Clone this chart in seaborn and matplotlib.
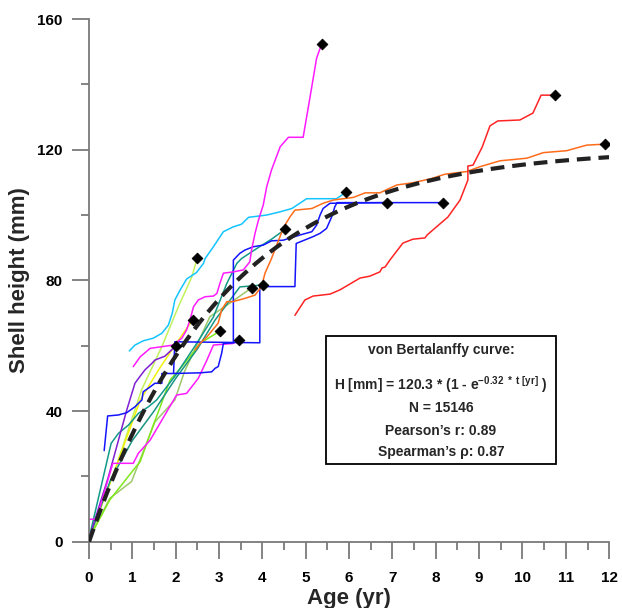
import numpy as np
import pandas as pd
import matplotlib
matplotlib.use("Agg")
import matplotlib.pyplot as plt
import seaborn as sns
from matplotlib.patches import Rectangle
from matplotlib.ticker import MultipleLocator

# ---- individual shell growth trajectories (age in yr, shell height in mm) ----
magenta1_age = [1.02, 1.18, 1.41, 1.68, 1.94, 2.14, 2.25, 2.33, 2.41, 2.52, 2.68, 2.87, 2.95, 3.02,
                3.10, 3.33, 3.56, 3.71, 3.75, 3.83, 3.91, 4.02, 4.10, 4.21, 4.41, 4.60, 4.94, 5.10,
                5.25, 5.37]
magenta1_h = [53.6, 56.6, 59.2, 59.7, 60.2, 62.3, 64.8, 67.9, 71.9, 74.0, 75.0, 75.2, 76.0, 79.1,
              82.2, 82.6, 83.2, 85.7, 89.3, 94.4, 98.5, 103.1, 108.7, 113.8, 120.9, 123.8, 123.8, 136.2,
              148.0, 152.5]

magenta2_age = [0.0, 0.17, 0.55, 1.02, 1.14, 1.41, 1.75, 2.02, 2.25, 2.52, 2.72, 2.87, 3.33, 3.46]
magenta2_h = [6.9, 6.9, 24.0, 24.0, 27.1, 31.1, 38.8, 44.9, 45.4, 50.0, 55.6, 60.2, 60.7, 61.8]

cyan_age = [0.93, 1.06, 1.25, 1.48, 1.68, 1.83, 1.92, 1.98, 2.10, 2.25, 2.48, 2.64, 2.68, 2.87,
            3.10, 3.33, 3.52, 3.68, 4.10, 4.41, 4.68, 5.02, 5.71, 5.94]
cyan_h = [58.4, 60.2, 61.5, 62.3, 63.8, 66.3, 69.9, 74.0, 77.0, 80.4, 82.4, 85.2, 86.7, 90.3,
          94.9, 96.4, 97.2, 99.3, 100.0, 101.0, 102.0, 105.0, 105.0, 107.1]

orange_age = [2.45, 2.56, 2.72, 2.98, 3.06, 3.18, 3.32, 3.60, 3.83, 3.98, 4.06, 4.21, 4.45, 4.52,
              4.64, 4.75, 5.14, 5.40, 5.64, 6.10, 6.37, 6.71, 7.10, 7.48, 7.91, 8.21, 8.71, 9.02,
              9.48, 10.10, 10.48, 11.02, 11.48, 11.90]
orange_h = [58.7, 60.7, 62.7, 66.9, 71.0, 73.5, 73.5, 74.5, 75.5, 78.1, 82.2, 86.7, 94.9, 96.9,
            99.5, 101.5, 102.0, 103.6, 104.6, 105.4, 106.8, 106.8, 109.2, 109.9, 111.2, 112.5, 113.3, 114.8,
            116.6, 117.4, 119.1, 119.7, 121.4, 121.7]

red_age = [4.75, 4.98, 5.17, 5.56, 5.79, 6.25, 6.48, 6.71, 6.76, 6.83, 6.94, 7.24, 7.47, 7.75,
           7.80, 8.28, 8.56, 8.74, 8.74, 8.86, 9.07, 9.25, 9.43, 9.94, 10.24, 10.43, 10.75]
red_h = [69.3, 74.0, 75.2, 75.8, 77.1, 80.7, 81.3, 82.6, 83.8, 84.1, 86.2, 91.4, 92.6, 93.0,
         93.9, 99.4, 104.6, 110.7, 115.0, 115.3, 120.8, 127.3, 128.8, 129.1, 131.2, 136.7, 136.7]

blue1_age = [0.35, 0.43, 0.68, 0.87, 1.06, 1.22, 1.25, 1.37, 1.52, 1.68, 1.68, 1.95, 1.98, 3.94,
             3.94, 4.75, 4.78, 5.17, 5.33, 5.48, 5.60, 5.67, 5.72, 8.17]
blue1_h = [27.9, 38.5, 38.8, 39.5, 41.3, 43.4, 45.9, 47.0, 48.5, 48.5, 51.5, 51.5, 61.2, 60.9,
           78.1, 78.1, 91.3, 93.4, 94.4, 95.9, 99.5, 102.5, 103.8, 103.8]

blue2_age = [1.95, 2.56, 2.83, 2.91, 2.98, 3.06, 3.10, 3.33, 3.33, 3.48, 3.60, 3.79, 4.02, 4.21,
             4.48, 4.87, 5.14, 5.25, 5.33, 5.40, 5.56, 6.88]
blue2_h = [51.5, 51.7, 52.0, 53.1, 53.6, 57.7, 60.7, 60.9, 86.2, 88.3, 89.3, 90.3, 90.8, 92.1,
           92.3, 93.9, 94.9, 96.9, 100.0, 102.0, 103.6, 103.8]

purple_age = [0.0, 0.45, 0.87, 1.06, 1.17, 1.29, 1.45, 1.52, 1.75, 2.00]
purple_h = [1.0, 20.0, 40.3, 48.5, 50.5, 52.6, 54.6, 55.6, 56.8, 59.9]

yellow_age = [0.0, 0.60, 1.18, 1.60, 2.00, 2.39]
yellow_h = [1.0, 22.0, 43.3, 52.5, 60.5, 67.9]

lime_age = [0.0, 0.60, 1.21, 1.68, 2.06, 2.37, 2.50]
lime_h = [1.0, 22.0, 46.4, 59.7, 71.9, 81.0, 87.0]

green_age = [0.0, 0.48, 1.02, 1.18, 1.48, 1.64, 1.87, 2.14, 2.45, 2.56, 3.02]
green_h = [1.0, 12.8, 21.9, 24.5, 35.6, 41.2, 49.5, 53.6, 58.7, 60.7, 64.5]

olive_age = [0.0, 0.48, 0.98, 1.52, 1.98, 2.20, 2.79, 3.30, 3.76]
olive_h = [1.0, 13.3, 18.4, 36.7, 43.4, 52.0, 68.9, 73.5, 77.8]

tealA_age = [0.0, 0.51, 0.68, 0.91, 1.14, 1.37, 1.56, 2.00, 2.45, 2.87, 3.18, 3.41, 3.52, 3.91,
             4.21, 4.52]
tealA_h = [1.0, 30.1, 33.2, 35.7, 39.3, 41.3, 43.4, 51.0, 60.0, 68.8, 79.1, 85.2, 86.7, 90.1,
           92.6, 95.6]

tealB_age = [0.0, 0.50, 1.00, 1.50, 2.00, 2.50, 2.91, 3.20, 3.48, 4.01]
tealB_h = [1.0, 19.0, 31.0, 40.0, 50.0, 59.0, 67.9, 73.0, 78.0, 78.6]

# ---- von Bertalanffy fit parameters ----
h_inf = 120.3
k_growth = 0.32
n_obs = 15146
pearson_r = 0.89
spearman_rho = 0.87

series = [
    ("olive", olive_age, olive_h, "#9cc86a"),
    ("green", green_age, green_h, "#7fe81a"),
    ("lime", lime_age, lime_h, "#c2f25a"),
    ("yellow", yellow_age, yellow_h, "#f2f20a"),
    ("tealB", tealB_age, tealB_h, "#1a9482"),
    ("tealA", tealA_age, tealA_h, "#12998a"),
    ("purple", purple_age, purple_h, "#7f1fd1"),
    ("magenta2", magenta2_age, magenta2_h, "#ff1aff"),
    ("blue1", blue1_age, blue1_h, "#1414ff"),
    ("blue2", blue2_age, blue2_h, "#1414ff"),
    ("cyan", cyan_age, cyan_h, "#14c4ff"),
    ("orange", orange_age, orange_h, "#ff6c1a"),
    ("red", red_age, red_h, "#ff2424"),
    ("magenta1", magenta1_age, magenta1_h, "#ff1aff"),
]

sns.set_theme(style="ticks")
plt.rcParams["font.family"] = ["Liberation Sans", "DejaVu Sans"]
plt.rcParams["font.weight"] = "bold"
plt.rcParams["mathtext.fontset"] = "custom"
plt.rcParams["mathtext.rm"] = "Liberation Sans:bold"
plt.rcParams["mathtext.it"] = "Liberation Sans:bold"
plt.rcParams["mathtext.bf"] = "Liberation Sans:bold"

fig = plt.figure(figsize=(6.22, 6.08), dpi=100)
ax = fig.add_axes([0.1431, 0.1090, 0.8363, 0.8597])

for name, age, h, col in series:
    d = pd.DataFrame({"age": age, "height": h})
    sns.lineplot(data=d, x="age", y="height", sort=False, estimator=None,
                 color=col, linewidth=1.1, ax=ax, zorder=2)

# fitted growth curve
t = np.linspace(0, 12, 300)
curve = pd.DataFrame({"age": t, "height": h_inf * (1 - np.exp(-k_growth * t))})
sns.lineplot(data=curve, x="age", y="height", color="#222222", linewidth=3.0,
             ax=ax, zorder=4)
ax.lines[-1].set_dashes([3.3, 1.9])

# end-of-record markers
ends = pd.DataFrame({"age": [s[1][-1] for s in series], "height": [s[2][-1] for s in series]})
sns.scatterplot(data=ends, x="age", y="height", marker="D", s=30, color="black",
                edgecolor="black", linewidth=0.6, ax=ax, zorder=5)

ax.set_xlim(0, 12)
ax.set_ylim(0, 160)
ax.xaxis.set_major_locator(MultipleLocator(1))
ax.xaxis.set_minor_locator(MultipleLocator(0.5))
ax.yaxis.set_major_locator(MultipleLocator(40))
ax.yaxis.set_minor_locator(MultipleLocator(20))

for side in ("top", "right"):
    ax.spines[side].set_visible(False)
for side in ("left", "bottom"):
    ax.spines[side].set_color("#7a7a7a")
    ax.spines[side].set_linewidth(1.3)

ax.tick_params(axis="both", which="major", direction="out", length=12, width=1.3,
               color="#7a7a7a", labelsize=11, labelcolor="black")
ax.tick_params(axis="both", which="minor", direction="out", length=6, width=1.3,
               color="#7a7a7a")
ax.tick_params(axis="x", which="major", pad=9)
ax.tick_params(axis="y", which="major", pad=7)
for lab in ax.get_xticklabels() + ax.get_yticklabels():
    lab.set_fontweight("bold")

ax.set_xlabel("Age (yr)", fontsize=16, fontweight="bold", labelpad=2)
ax.set_ylabel("Shell height (mm)", fontsize=16, fontweight="bold", labelpad=5)

# statistics box
ax.add_patch(Rectangle((0.4556, 0.1487), 0.4421, 0.2448, transform=ax.transAxes,
                       facecolor="white", edgecolor="black", linewidth=1.3, zorder=6))
cx = 0.6767
txt_kw = dict(transform=ax.transAxes, ha="center", va="center", fontsize=10,
              fontweight="bold", zorder=7)
ax.text(cx, 0.3667, "von Bertalanffy curve:", **txt_kw)
ax.text(cx, 0.300,
        r"H [mm] = %.1f * (1 - e$^{\mathbf{-%.2f\ *\ t\ [yr]}}$ )" % (h_inf, k_growth),
        **txt_kw)
ax.text(cx, 0.2558, f"N = {n_obs}", **txt_kw)
ax.text(cx, 0.2118, f"Pearson\u2019s r: {pearson_r:.2f}", **txt_kw)
ax.text(cx, 0.1716, f"Spearman\u2019s \u03c1: {spearman_rho:.2f}", **txt_kw)

fig.savefig("out.png", dpi=100)
